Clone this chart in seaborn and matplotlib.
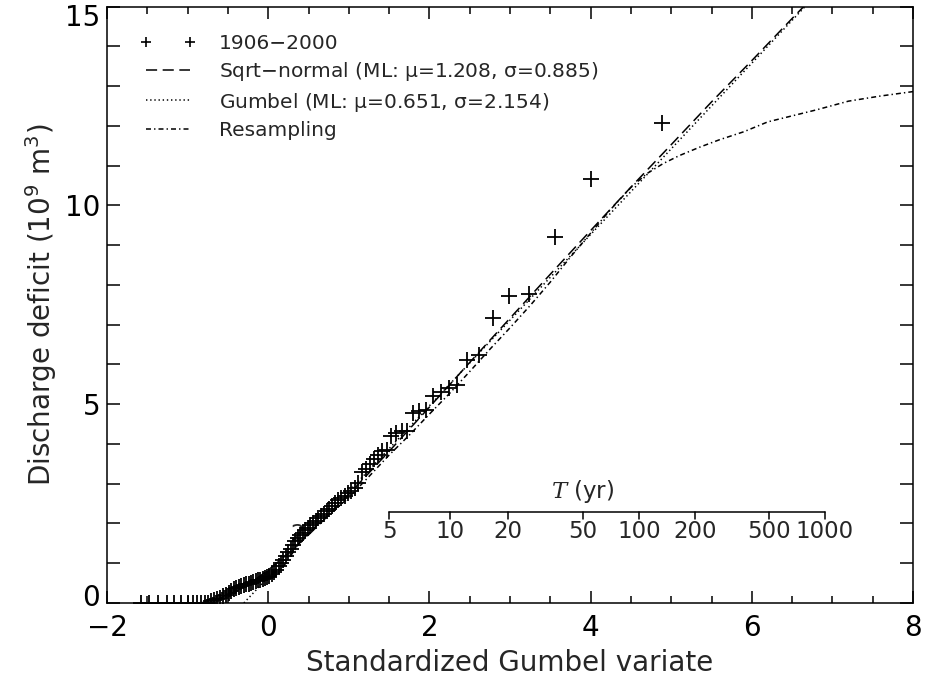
import numpy as np
import matplotlib
matplotlib.use("Agg")
import matplotlib.pyplot as plt
from matplotlib.lines import Line2D
from matplotlib.ticker import MultipleLocator
from matplotlib.transforms import ScaledTranslation
import seaborn as sns

# ---------------- data ----------------
# observed annual deficits 1906-2000, plotted at their Gumbel reduced variate
obs_x = [-1.58, -1.48, -1.37, -1.26, -1.17, -1.08, -1.00, -0.929, -0.879, -0.832,
         -0.787, -0.745, -0.705, -0.667, -0.630, -0.594, -0.559, -0.524, -0.491, -0.458,
         -0.426, -0.395, -0.364, -0.333, -0.303, -0.273, -0.243, -0.214, -0.185, -0.156,
         -0.127, -0.098, -0.069, -0.041, -0.012, 0.016, 0.045, 0.074, 0.102, 0.131,
         0.160, 0.189, 0.218, 0.247, 0.277, 0.307, 0.337, 0.367, 0.397, 0.428,
         0.459, 0.491, 0.523, 0.555, 0.588, 0.621, 0.655, 0.689, 0.724, 0.760,
         0.796, 0.833, 0.870, 0.909, 0.948, 0.989, 1.031, 1.073, 1.117, 1.162,
         1.209, 1.257, 1.308, 1.359, 1.413, 1.470, 1.528, 1.590, 1.654, 1.724,
         1.796, 1.873, 1.956, 2.045, 2.141, 2.246, 2.340, 2.47, 2.62, 2.79,
         2.99, 3.24, 3.56, 4.01, 4.88]
obs_y = [0, 0, 0, 0, 0, 0, 0, 0, 0, 0,
         0, 0, 0.04, 0.07, 0.10, 0.13, 0.17, 0.21, 0.26, 0.31,
         0.35, 0.38, 0.41, 0.43, 0.45, 0.47, 0.49, 0.51, 0.53, 0.55,
         0.57, 0.59, 0.61, 0.63, 0.65, 0.68, 0.72, 0.77, 0.84, 0.92,
         1.00, 1.08, 1.17, 1.27, 1.37, 1.46, 1.55, 1.63, 1.70, 1.77,
         1.83, 1.89, 1.95, 2.01, 2.07, 2.13, 2.19, 2.25, 2.31, 2.37,
         2.44, 2.51, 2.58, 2.64, 2.70, 2.76, 2.82, 2.90, 3.02, 3.30,
         3.38, 3.50, 3.62, 3.73, 3.82, 3.86, 4.20, 4.28, 4.32, 4.33,
         4.78, 4.82, 4.85, 5.20, 5.30, 5.40, 5.47, 6.12, 6.24, 7.16,
         7.72, 7.77, 9.20, 10.65, 12.08]

# Sqrt-normal fit curve
sqn_x = [-0.9, -0.8, -0.6, -0.4, -0.2, 0.0, 0.25, 0.5, 0.75, 1.0, 1.5, 2.0,
         2.5, 3.0, 3.5, 4.0, 4.5, 5.0, 5.5, 6.0, 6.5, 7.0]
sqn_y = [0.0, 0.013, 0.112, 0.292, 0.534, 0.827, 1.248, 1.712, 2.210, 2.731, 3.813, 4.926,
         6.049, 7.161, 8.267, 9.365, 10.457, 11.525, 12.600, 13.639, 14.698, 15.740]

# Gumbel fit line
gum_x = [-0.302, 7.0]
gum_y = [0.0, 15.729]

# Resampling curve
res_x = [-0.80, -0.60, -0.40, -0.20, 0.00, 0.20, 0.40, 0.60, 0.80, 1.00, 1.25, 1.50,
         1.75, 2.00, 2.25, 2.50, 2.75, 3.00, 3.25, 3.50, 3.75, 4.00, 4.25, 4.50,
         4.70, 4.90, 5.10, 5.35, 5.60, 5.90, 6.20, 6.50, 6.80, 7.20, 7.60, 8.00]
res_y = [0.00, 0.12, 0.33, 0.50, 0.65, 0.95, 1.55, 1.95, 2.30, 2.65, 3.18, 3.72,
         4.22, 4.75, 5.27, 5.82, 6.38, 6.92, 7.48, 8.07, 8.70, 9.30, 9.90, 10.45,
         10.80, 11.05, 11.25, 11.46, 11.65, 11.85, 12.10, 12.25, 12.40, 12.62, 12.75, 12.86]

# return-period axis
T_ticks = [5, 10, 20, 50, 100, 200, 500, 1000]
T_hidden = 2

legend_labels = ["1906\u22122000",
                 r"Sqrt$-$normal (ML: $\mu$=1.208, $\sigma$=0.885)",
                 r"Gumbel (ML: $\mu$=0.651, $\sigma$=2.154)",
                 "Resampling"]

# ---------------- style ----------------
sns.set_style("ticks")
plt.rcParams["font.family"] = ["DejaVu Sans"]
plt.rcParams["mathtext.fontset"] = "dejavuserif"
plt.rcParams["mathtext.default"] = "regular"
plt.rcParams["lines.scale_dashes"] = False
plt.rcParams["axes.unicode_minus"] = True

DASH = (8.0, 4.0)
DOT = (1.0, 2.0)
DASHDOT = (3.6, 2.2, 1.0, 2.2)
LW = 1.1

fig = plt.figure(figsize=(9.28, 6.8), dpi=100)
ax = fig.add_axes([107 / 928, 77 / 680, 806 / 928, 596.5 / 680])

def gumbel_var(T):
    return -np.log(-np.log(1.0 - 1.0 / np.asarray(T, dtype=float)))

# return period scale (drawn first, under the points)
tpos = gumbel_var(T_ticks)
y_line, y_tick, y_lab, y_title = 2.29, 2.12, 1.79, 2.80
ax.plot([tpos[0], tpos[-1]], [y_line, y_line], color="k", lw=1.1, zorder=1)
for p, t in zip(tpos, T_ticks):
    ax.plot([p, p], [y_line, y_tick], color="k", lw=1.1, zorder=1)
    ax.text(p, y_lab, str(t), ha="center", va="center", fontsize=16.5, zorder=1)
ax.text(float(gumbel_var(T_hidden)), y_lab - 0.08, str(T_hidden), ha="center",
        va="center", fontsize=16.5, zorder=1)
ax.text(float(gumbel_var(50)), y_title, r"$\mathit{T}$ (yr)", ha="center",
        va="center", fontsize=16.5, zorder=1)

# observations
sns.scatterplot(x=obs_x, y=obs_y, marker="+", s=125, color="k", linewidth=1.3,
                ax=ax, legend=False, zorder=3)

# fitted curves
sns.lineplot(x=sqn_x, y=sqn_y, ax=ax, color="k", lw=LW, estimator=None, sort=False)
ax.lines[-1].set_dashes(DASH)
sns.lineplot(x=gum_x, y=gum_y, ax=ax, color="k", lw=LW, estimator=None, sort=False)
ax.lines[-1].set_dashes(DOT)
sns.lineplot(x=res_x, y=res_y, ax=ax, color="k", lw=LW, estimator=None, sort=False)
ax.lines[-1].set_dashes(DASHDOT)

ax.set_xlim(-2, 8)
ax.set_ylim(0, 15)
ax.xaxis.set_major_locator(MultipleLocator(2))
ax.xaxis.set_minor_locator(MultipleLocator(0.5))
ax.yaxis.set_major_locator(MultipleLocator(5))
ax.yaxis.set_minor_locator(MultipleLocator(1))
ax.tick_params(axis="both", which="both", direction="in", top=True, right=True,
               width=1.1, colors="k")
ax.tick_params(axis="x", which="major", length=8.5, pad=8, labelsize=20)
ax.tick_params(axis="x", which="minor", length=4.7)
ax.tick_params(axis="y", which="both", length=9.5)
ax.tick_params(axis="y", which="major", pad=5, labelsize=20)
for s in ax.spines.values():
    s.set_linewidth(1.1)
    s.set_color("k")

ax.set_xlabel("Standardized Gumbel variate", fontsize=20, labelpad=5)
ax.set_ylabel(r"Discharge deficit (10$^9$ m$^3$)", fontsize=20, labelpad=4)

# nudge the end labels of the y axis inward, as in the reference
fig.canvas.draw()
for tk in ax.yaxis.get_major_ticks():
    loc = tk.get_loc()
    if abs(loc - 0.0) < 1e-9:
        tk.label1.set_transform(tk.label1.get_transform()
                                + ScaledTranslation(0, 8 / 100, fig.dpi_scale_trans))
    elif abs(loc - 15.0) < 1e-9:
        tk.label1.set_transform(tk.label1.get_transform()
                                + ScaledTranslation(0, -9 / 100, fig.dpi_scale_trans))

handles = [
    Line2D([], [], marker="+", ls="none", color="k", ms=7, mew=1.2),
    Line2D([], [], color="k", lw=LW, dashes=DASH),
    Line2D([], [], color="k", lw=LW, dashes=DOT),
    Line2D([], [], color="k", lw=LW, dashes=DASHDOT),
]
ax.legend(handles, legend_labels, loc="upper left", bbox_to_anchor=(140 / 928, 1 - 34 / 680),
          bbox_transform=fig.transFigure, frameon=False, fontsize=14.5, numpoints=2,
          handlelength=2.8, handletextpad=1.1, labelspacing=0.36, borderpad=0,
          borderaxespad=0)

fig.savefig("out.png", dpi=100)
